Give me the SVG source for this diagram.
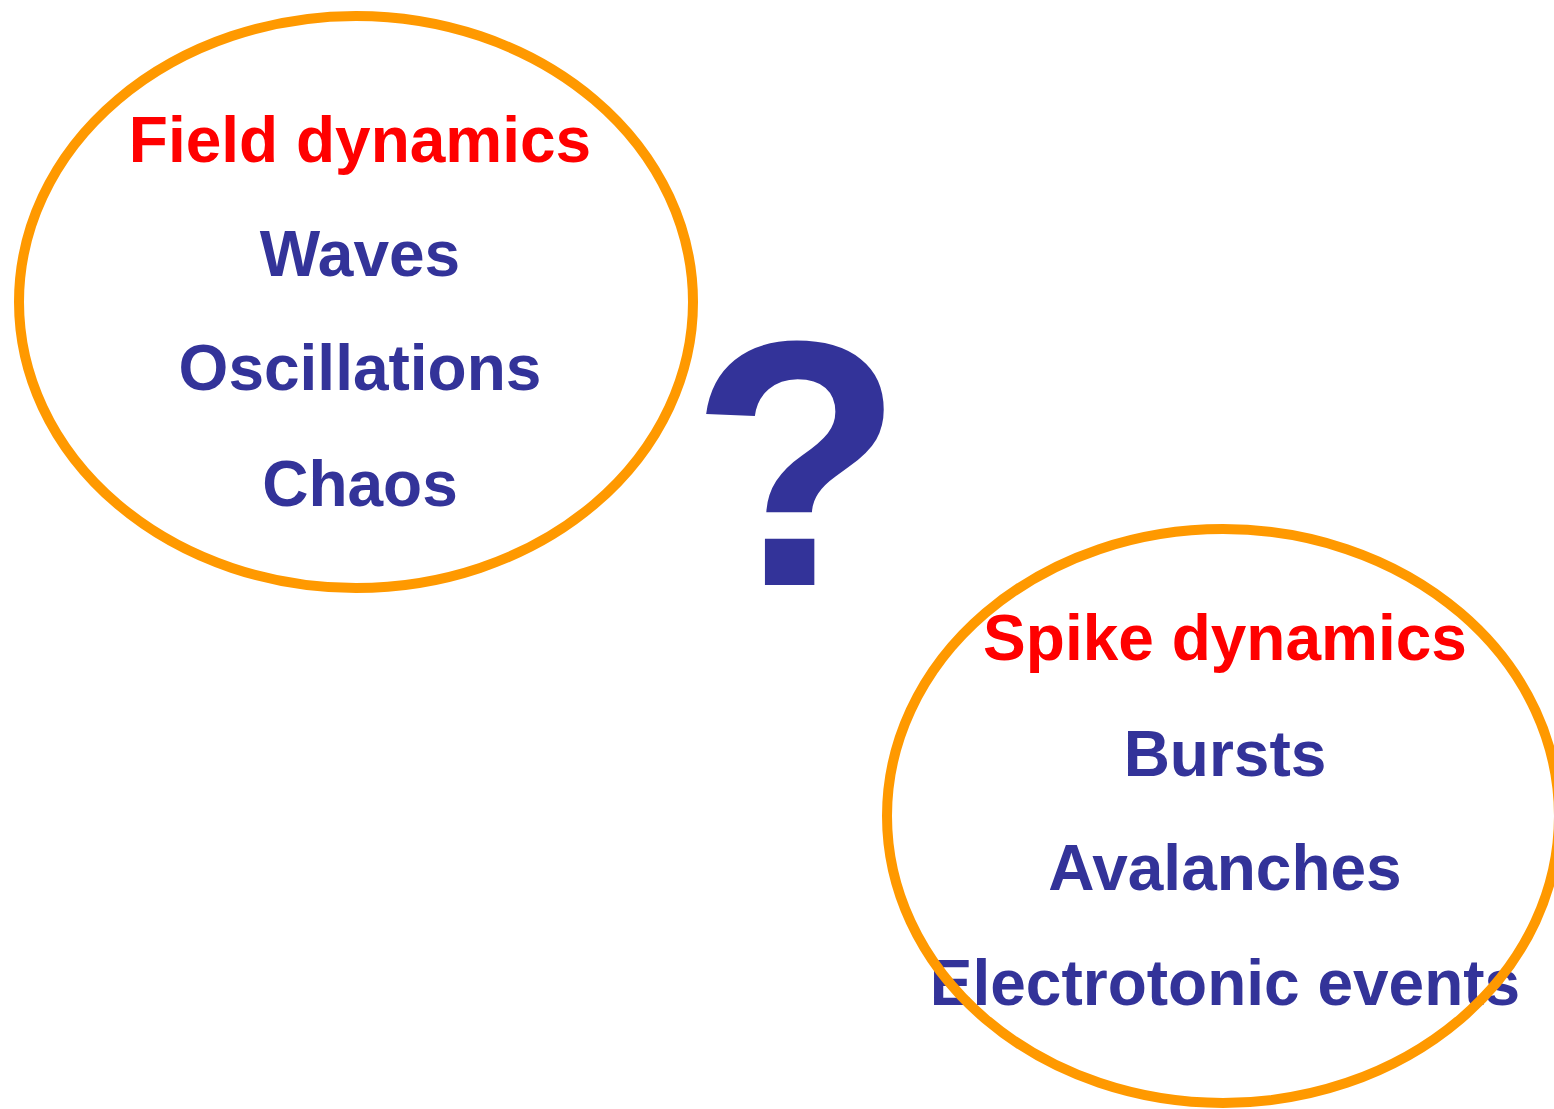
<svg xmlns="http://www.w3.org/2000/svg" width="1554" height="1109" viewBox="0 0 1554 1109">
<style>
.t{font-family:"Liberation Sans",Arial,sans-serif;font-weight:bold;font-size:64px;text-anchor:middle}
.h{fill:#FF0000}
.b{fill:#333399}
.ring{fill:none;stroke:#FF9900;stroke-width:10}
</style>
<rect width="1554" height="1109" fill="#FFFFFF"/>
<g id="field">
<text class="t h" x="360" y="162">Field dynamics</text>
<text class="t b" x="360" y="276">Waves</text>
<text class="t b" x="360" y="390">Oscillations</text>
<text class="t b" x="360" y="506">Chaos</text>
<ellipse class="ring" cx="356" cy="302" rx="337" ry="286"/>
</g>
<g id="question">
<text x="797" y="585" style="font-family:'Liberation Sans',Arial,sans-serif;font-weight:bold;font-size:350px;text-anchor:middle;fill:#333399">?</text>
</g>
<g id="spike">
<text class="t h" x="1225" y="660">Spike dynamics</text>
<text class="t b" x="1225" y="776">Bursts</text>
<text class="t b" x="1225" y="890">Avalanches</text>
<text class="t b" x="1225" y="1005">Electrotonic events</text>
<ellipse class="ring" cx="1223" cy="816" rx="336" ry="287"/>
</g>
<g id="connectors"></g>
</svg>
